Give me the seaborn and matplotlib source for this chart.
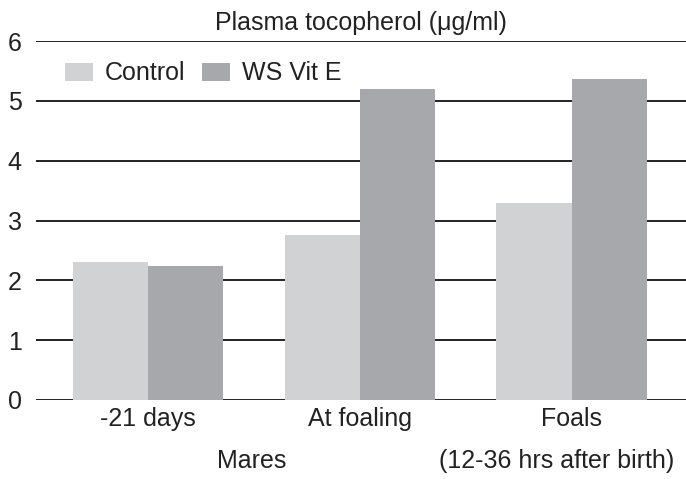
import pandas as pd
import seaborn as sns
import matplotlib.pyplot as plt

# values
periods = ["-21 days", "At foaling", "Foals"]
control = [2.31, 2.76, 3.29]
ws_vit_e = [2.24, 5.20, 5.37]
groups = ["Control", "WS Vit E"]

df = pd.DataFrame({
    "Period": periods * 2,
    "Tocopherol": control + ws_vit_e,
    "Group": [groups[0]] * 3 + [groups[1]] * 3,
})

sns.set_style("white")
plt.rcParams["font.family"] = ["Liberation Sans", "DejaVu Sans"]

fig = plt.figure(figsize=(6.86, 4.79), dpi=100)
ax = fig.add_axes([0.052, 0.165, 0.948, 0.749])

sns.barplot(data=df, x="Period", y="Tocopherol", hue="Group",
            palette=["#d1d2d4", "#a7a8ab"], width=0.71,
            saturation=1, linewidth=0, ax=ax, zorder=3)

ax.set_ylim(0, 6)
ax.set_xlim(-0.53, 2.54)
ax.set_yticks(range(7))
ax.yaxis.grid(True, color="#222222", linewidth=1.4, zorder=0)
ax.set_axisbelow(True)
for s in ax.spines.values():
    s.set_visible(False)
ax.tick_params(axis="both", length=0, labelsize=18, colors="#222222")
ax.tick_params(axis="y", pad=10)
ax.tick_params(axis="x", pad=5)
ax.set_xlabel("")
ax.set_ylabel("")

ax.set_title("Plasma tocopherol (\u03bcg/ml)", fontsize=18, color="#222222", pad=8)

# second row of x labels
ax.text(0.49, -0.17, "Mares", transform=ax.get_xaxis_transform(),
        ha="center", va="center", fontsize=18, color="#222222")
ax.text(1.93, -0.17, "(12-36 hrs after birth)", transform=ax.get_xaxis_transform(),
        ha="center", va="center", fontsize=18, color="#222222")

ax.legend(loc="center left", bbox_to_anchor=(0.045, 0.91), ncol=2, frameon=False,
          borderpad=0, borderaxespad=0,
          fontsize=18, handlelength=1.12, handleheight=0.76, handletextpad=0.48,
          columnspacing=0.68, labelcolor="#222222")

fig.savefig("out.png", dpi=100)
